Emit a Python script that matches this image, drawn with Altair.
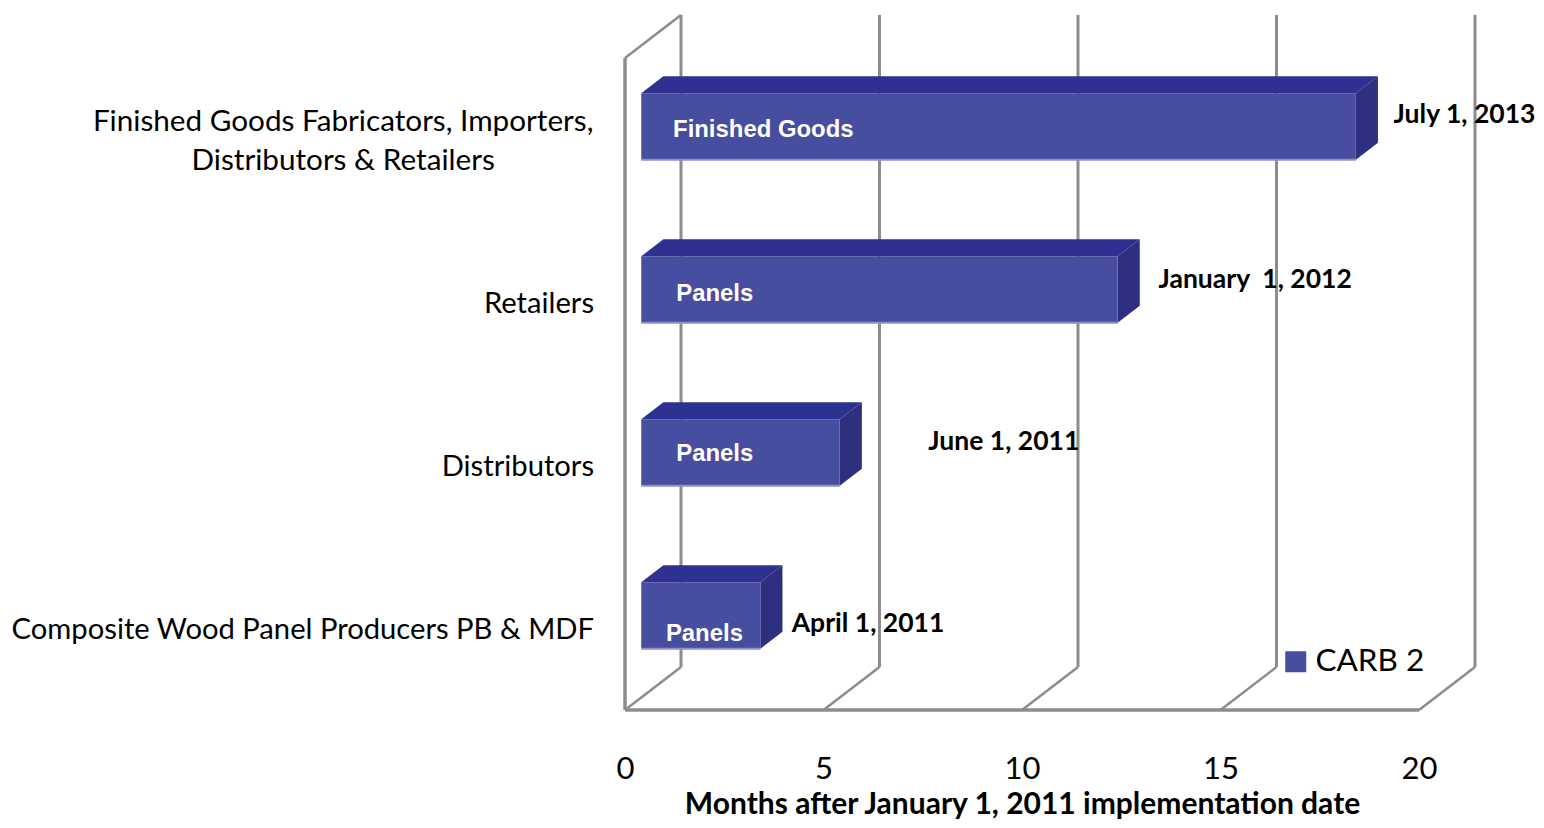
import altair as alt
import pandas as pd

# ---- values ----
series_name = "CARB 2"
groups = ["Composite Wood Panel Producers PB & MDF", "Distributors", "Retailers",
          "Finished Goods Fabricators, Importers, Distributors & Retailers"]
months = [3, 5, 12, 18]
bar_labels = ["Panels", "Panels", "Panels", "Finished Goods"]
dates = ["April 1, 2011", "June 1, 2011", "January \u00a01, 2012", "July 1, 2013"]
ticks = [0, 5, 10, 15, 20]
x_title = "Months after January 1, 2011 implementation date"

# annotation anchors, in axis units (months / category slots)
bar_label_x = [1.03, 1.29, 1.29, 1.21]
bar_label_y = [0.467, 1.571, 2.552, 3.558]
date_x = [4.2, 7.64, 13.44, 19.36]
date_y = [0.528, 1.644, 2.638, 3.65]
cat_rows = [("Composite Wood Panel Producers PB & MDF", 0.49),
            ("Distributors", 1.49), ("Retailers", 2.49)]
wrapped_rows = [("Finished Goods Fabricators, Importers,", 3.607),
                ("Distributors & Retailers", 3.368)]

# ---- pseudo-3D projection ----
PX_X, PX_Y = 39.7, 163.0
W, H = 850, 695
DEPTH_X, DEPTH_Y = 56 / PX_X, 43 / PX_Y
D0, D1 = 0.29, 0.685
BAR_H, BASE = 0.408, 0.299
WALL_TOP = 4.0

xs = alt.Scale(domain=[0, W / PX_X], nice=False, zero=False)
ys = alt.Scale(domain=[0, H / PX_Y], nice=False, zero=False)
X = lambda f="x", **k: alt.X(f"{f}:Q", scale=xs, title=None, axis=None, **k)
Y = lambda f="y", **k: alt.Y(f"{f}:Q", scale=ys, title=None, axis=None, **k)
X2 = lambda f="x2": alt.X2(f"{f}")
Y2 = lambda f="y2": alt.Y2(f"{f}")

GRID = "#8c8c8c"
FRONT, TOP, SIDE, EDGE = "#474d9f", "#2e3192", "#2e2f7f", "#8f90c6"
FONT, ARIAL = "Lato", "Liberation Sans"

# wall + floor lines
walls = pd.DataFrame([{"x": t + DEPTH_X, "x2": t + DEPTH_X, "y": DEPTH_Y, "y2": WALL_TOP + DEPTH_Y} for t in ticks])
floor_diag = pd.DataFrame([{"x": t, "x2": t + DEPTH_X, "y": 0, "y2": DEPTH_Y} for t in ticks]
                          + [{"x": 0, "x2": DEPTH_X, "y": WALL_TOP, "y2": WALL_TOP + DEPTH_Y}])
left_edge = pd.DataFrame([{"x": 0, "x2": 0, "y": 0, "y2": WALL_TOP}])
floor_edge = pd.DataFrame([{"x": 0, "x2": ticks[-1], "y": 0, "y2": 0}])

axis_layer = alt.Chart(pd.DataFrame({"x": ticks})).mark_point(opacity=0).encode(
    x=alt.X("x:Q", scale=xs, title=x_title,
            axis=alt.Axis(values=ticks, domain=False, ticks=False, grid=False, format="d",
                          labelFont=FONT, labelFontSize=31, labelColor="#000", labelPadding=44,
                          labelFlush=False, titleFont=FONT, titleFontSize=30, titleFontWeight="bold",
                          titleColor="#000", titleX=397, titleY=103.5, titleBaseline="alphabetic",
                          titleAnchor="middle", titleAlign="center")),
    y=alt.value(H),
)

rule = lambda df, w, color=GRID: alt.Chart(df).mark_rule(color=color, strokeWidth=w).encode(
    x=X(), x2=X2(), y=Y(), y2=Y2())

# bar geometry
rows_front, rows_top, rows_side, rows_edge = [], [], [], []
for i, (g, m) in enumerate(zip(groups, months)):
    y0 = i + BASE + D0 * DEPTH_Y
    y1 = y0 + BAR_H
    x0, x1 = D0 * DEPTH_X, m + D0 * DEPTH_X
    bx0, bx1 = D1 * DEPTH_X, m + D1 * DEPTH_X
    lift = (D1 - D0) * DEPTH_Y
    rows_front.append({"x": x0, "x2": x1, "y": y0, "y2": y1, "s": series_name})
    rows_edge.append({"x": x0, "x2": x1, "y": y0, "y2": y0})
    rows_top += [{"g": g, "y": y1, "x": x0, "x2": x1}, {"g": g, "y": y1 + lift, "x": bx0, "x2": bx1}]
    rows_side += [{"g": g, "x": x1, "y": y0, "y2": y1}, {"g": g, "x": bx1, "y": y0 + lift, "y2": y1 + lift}]

top = alt.Chart(pd.DataFrame(rows_top)).mark_area(orient="horizontal", color=TOP).encode(
    y=Y(), x=X(stack=False), x2=X2(), detail="g:N")
side = alt.Chart(pd.DataFrame(rows_side)).mark_area(orient="vertical", color=SIDE).encode(
    x=X(), y=Y(stack=False), y2=Y2(), detail="g:N")
front = alt.Chart(pd.DataFrame(rows_front)).mark_rect().encode(
    x=X(), x2=X2(), y=Y(), y2=Y2(),
    color=alt.Color("s:N", scale=alt.Scale(domain=[series_name], range=[FRONT]),
                    legend=alt.Legend(orient="none", legendX=655, legendY=631, title=None,
                                      symbolType="square", symbolSize=441, symbolStrokeWidth=0,
                                      labelFont=FONT, labelFontSize=31.5, labelColor="#000",
                                      labelOffset=4)))
edge = rule(pd.DataFrame(rows_edge), 2, EDGE)

text = lambda df, **m: alt.Chart(df).mark_text(**m).encode(x=X(), y=Y(), text="t:N")

inner = text(pd.DataFrame({"x": bar_label_x, "y": bar_label_y, "t": bar_labels}),
             font=ARIAL, fontWeight="bold", fontSize=23.9, color="#ffffff", align="left", baseline="middle")
date_lab = text(pd.DataFrame({"x": date_x, "y": date_y, "t": dates}),
                font=FONT, fontWeight="bold", fontSize=26.5, color="#000000", align="left", baseline="middle")
cats = text(pd.DataFrame({"x": [-0.78] * len(cat_rows), "y": [r[1] for r in cat_rows], "t": [r[0] for r in cat_rows]}),
            font=FONT, fontSize=29.2, color="#000000", align="right", baseline="middle")
cats2 = text(pd.DataFrame({"x": [-7.1] * len(wrapped_rows), "y": [r[1] for r in wrapped_rows], "t": [r[0] for r in wrapped_rows]}),
             font=FONT, fontSize=29.7, color="#000000", align="center", baseline="middle")

chart = alt.layer(
    axis_layer, rule(walls, 3), rule(floor_diag, 2.5), rule(left_edge, 3.5), rule(floor_edge, 3.5),
    top, side, front, edge, inner, date_lab, cats, cats2,
).resolve_axis(x="independent").properties(
    width=W, height=H,
    autosize=alt.AutoSizeParams(type="none"),
    padding={"left": 617, "top": 7, "right": 61, "bottom": 110},
    background="#ffffff",
).configure_view(stroke=None)

chart.save("out.html", embed_options={"renderer": "svg", "actions": False})
